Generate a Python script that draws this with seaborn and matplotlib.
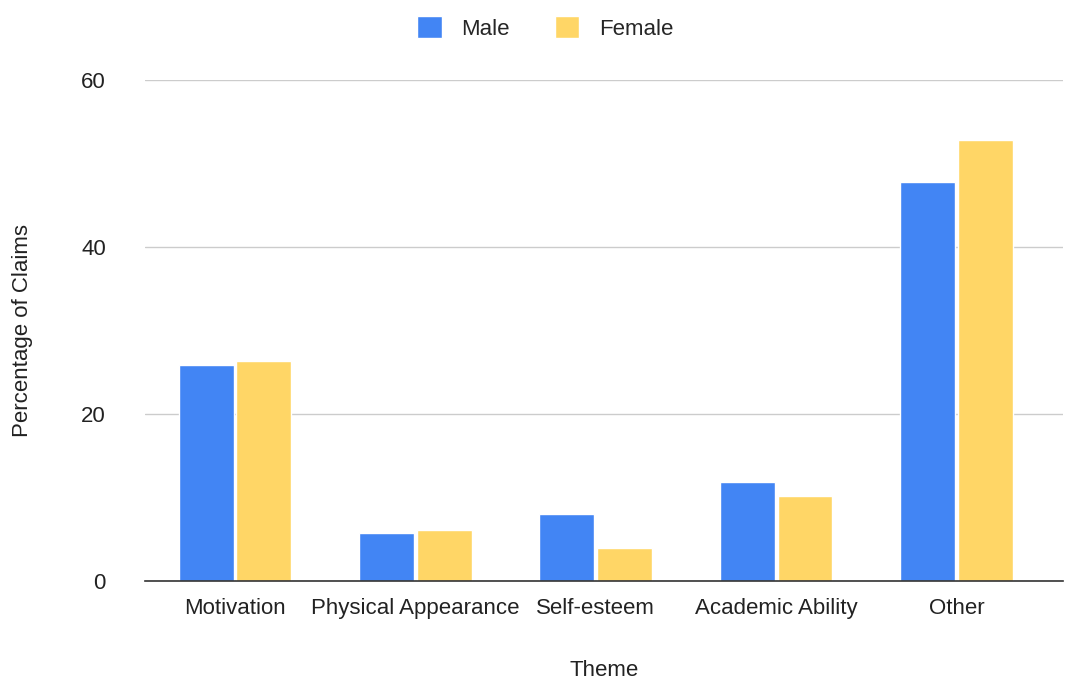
import pandas as pd
import matplotlib.pyplot as plt
import seaborn as sns

# values
themes = ["Motivation", "Physical Appearance", "Self-esteem", "Academic Ability", "Other"]
male = [25.9, 5.8, 8.0, 11.8, 47.8]
female = [26.3, 6.1, 3.9, 10.2, 52.8]

df = pd.DataFrame({
    "Theme": themes * 2,
    "Percentage": male + female,
    "Gender": ["Male"] * len(themes) + ["Female"] * len(themes),
})

sns.set_style("white")
plt.rcParams["font.family"] = ["Liberation Sans", "DejaVu Sans"]

fig = plt.figure(figsize=(10.65, 6.82), dpi=100)
ax = fig.add_axes([0.136, 0.148, 0.862, 0.735])

sns.barplot(data=df, x="Theme", y="Percentage", hue="Gender",
            palette={"Male": "#4285F4", "Female": "#FFD666"},
            width=0.64, gap=0.05, saturation=1, ax=ax, legend=True)

ax.set_ylim(0, 60)
ax.set_xlim(-0.5, 4.59)
ax.set_yticks([0, 20, 40, 60])
ax.yaxis.grid(True, color="#cccccc", linewidth=1)
ax.set_axisbelow(True)
for s in ["top", "right", "left"]:
    ax.spines[s].set_visible(False)
ax.spines["bottom"].set_color("#333333")
ax.spines["bottom"].set_linewidth(1.2)
ax.tick_params(axis="both", length=0, labelsize=16, colors="#222222")
ax.tick_params(axis="x", pad=12)
ax.tick_params(axis="y", pad=28)

ax.set_xlabel("Theme", fontsize=16, color="#222222", labelpad=30)
ax.set_ylabel("Percentage of Claims", fontsize=16, color="#222222", labelpad=35)

handles, labels = ax.get_legend_handles_labels()
ax.get_legend().remove()
fig.legend(handles, labels, loc="center", bbox_to_anchor=(0.512, 0.959),
           ncol=2, frameon=False, fontsize=16, handlelength=1.1, handleheight=1.1,
           columnspacing=2.0, handletextpad=0.9)

plt.savefig("out.png", dpi=100)
